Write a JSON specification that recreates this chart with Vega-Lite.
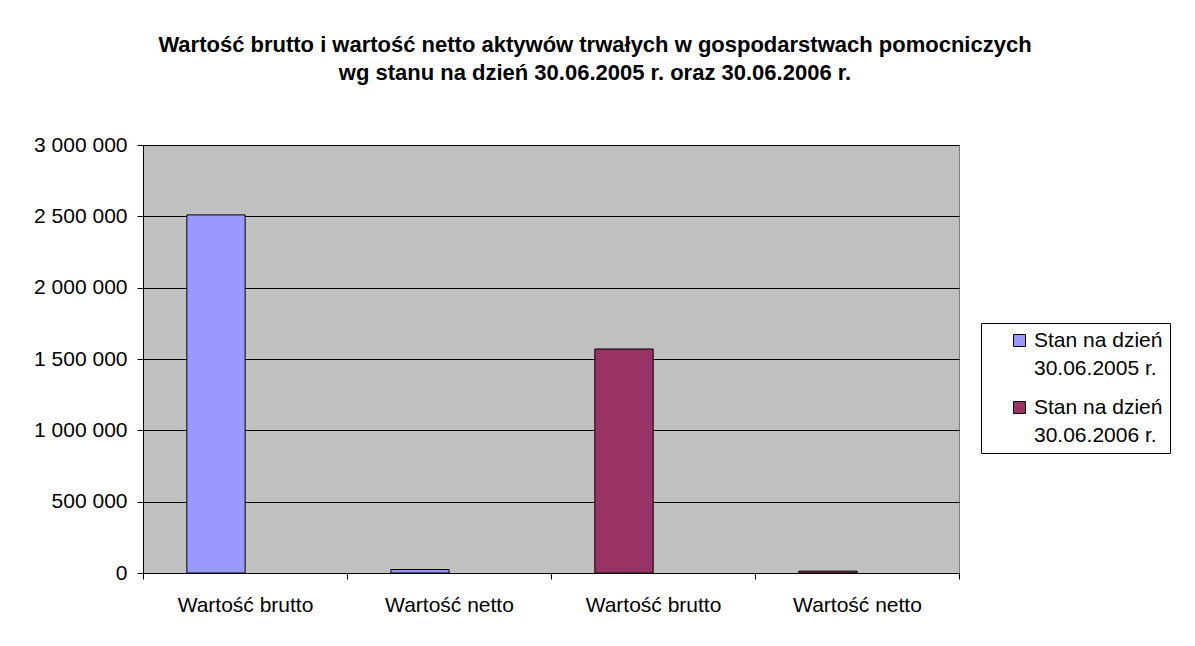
{
  "$schema": "https://vega.github.io/schema/vega-lite/v6.json",
  "autosize": "none",
  "width": 816,
  "height": 428,
  "padding": {"left": 143, "top": 145, "right": 236, "bottom": 73},
  "background": "white",
  "title": {
    "text": ["Wartość brutto i wartość netto aktywów trwałych w gospodarstwach pomocniczych", "wg stanu na dzień 30.06.2005 r. oraz 30.06.2006 r."],
    "font": "Liberation Sans",
    "fontSize": 22,
    "fontWeight": "bold",
    "lineHeight": 28,
    "anchor": "middle",
    "dx": 44,
    "offset": 49,
    "color": "black"
  },
  "data": {
    "values": [
      {"kategoria": "Wartość brutto|2005", "stan": "Stan na dzień 30.06.2005 r.", "wartosc": 2510000},
      {"kategoria": "Wartość netto|2005", "stan": "Stan na dzień 30.06.2005 r.", "wartosc": 24000},
      {"kategoria": "Wartość brutto|2006", "stan": "Stan na dzień 30.06.2006 r.", "wartosc": 1570000},
      {"kategoria": "Wartość netto|2006", "stan": "Stan na dzień 30.06.2006 r.", "wartosc": 13000}
    ]
  },
  "mark": {"type": "bar", "width": {"band": 0.2857}, "xOffset": -29, "stroke": "black", "strokeWidth": 1},
  "encoding": {
    "x": {
      "field": "kategoria",
      "type": "nominal",
      "sort": null,
      "scale": {"paddingInner": 0, "paddingOuter": 0},
      "axis": {
        "title": null,
        "labelExpr": "isString(datum.value) ? split(datum.value, '|')[0] : ''",
        "labelAngle": 0,
        "labelFont": "Liberation Sans",
        "labelFontSize": 21,
        "labelColor": "black",
        "labelPadding": 15,
        "tickBand": "extent",
        "tickSize": 6,
        "tickColor": "black",
        "domainColor": "black",
        "grid": false
      }
    },
    "y": {
      "field": "wartosc",
      "type": "quantitative",
      "scale": {"domain": [0, 3000000], "nice": false},
      "axis": {
        "title": null,
        "values": [0, 500000, 1000000, 1500000, 2000000, 2500000, 3000000],
        "format": ",d",
        "labelFont": "Liberation Sans",
        "labelFontSize": 21,
        "labelColor": "black",
        "labelPadding": 10,
        "tickSize": 6,
        "tickColor": "black",
        "domainColor": "black",
        "grid": true,
        "gridColor": "black",
        "gridWidth": 1,
        "gridOpacity": 1
      }
    },
    "color": {
      "field": "stan",
      "type": "nominal",
      "scale": {"domain": ["Stan na dzień 30.06.2005 r.", "Stan na dzień 30.06.2006 r."], "range": ["#9999FF", "#993366"]},
      "legend": {
        "title": null,
        "orient": "none",
        "legendX": 838,
        "legendY": 178,
        "symbolType": "square",
        "symbolSize": 144,
        "symbolStrokeColor": "black",
        "symbolStrokeWidth": 1,
        "symbolOpacity": 1,
        "labelFont": "Liberation Sans",
        "labelFontSize": 21,
        "labelColor": "black",
        "labelLimit": 300,
        "labelExpr": "['Stan na dzień', replace(datum.label, 'Stan na dzień ', '')]",
        "labelOffset": 4,
        "symbolOffset": 21,
        "rowPadding": 17,
        "padding": 7,
        "strokeColor": "black",
        "fillColor": "white",
        "encode": {
          "labels": {"update": {"lineHeight": {"value": 28}}}
        }
      }
    }
  },
  "config": {
    "view": {"stroke": "#808080", "fill": "#C0C0C0"},
    "locale": {"number": {"decimal": ",", "thousands": " ", "grouping": [3], "currency": ["", " zł"]}}
  }
}
